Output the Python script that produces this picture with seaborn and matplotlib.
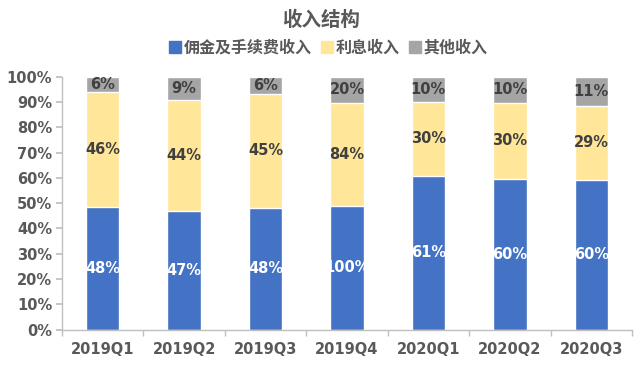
import numpy as np
import pandas as pd
import matplotlib.pyplot as plt
import seaborn as sns
from matplotlib.lines import Line2D
from matplotlib.ticker import FixedLocator, PercentFormatter

sns.set_theme(style="white")
plt.rcParams['font.family'] = ['DejaVu Sans', 'Noto Sans CJK SC']

# Data (segment heights in %, printed labels as shown)
quarters = ['2019Q1', '2019Q2', '2019Q3', '2019Q4', '2020Q1', '2020Q2', '2020Q3']
commission = [48.6, 46.9, 48.1, 49.0, 60.7, 59.6, 59.2]
interest = [45.5, 43.9, 45.1, 40.7, 29.4, 30.1, 29.3]
other = [5.9, 9.2, 6.8, 10.3, 9.9, 10.3, 11.5]
commission_labels = ['48%', '47%', '48%', '100%', '61%', '60%', '60%']
interest_labels = ['46%', '44%', '45%', '84%', '30%', '30%', '29%']
other_labels = ['6%', '9%', '6%', '20%', '10%', '10%', '11%']
series_names = ['佣金及手续费收入', '利息收入', '其他收入']

colors = ['#4472C4', '#FFE699', '#A5A5A5']
text_dark = '#404040'

df = pd.DataFrame({'quarter': quarters, 'commission': commission,
                   'interest': interest, 'other': other})
df['top_interest'] = df['commission'] + df['interest']
df['top_other'] = df['top_interest'] + df['other']

fig = plt.figure(figsize=(6.42, 3.73), dpi=100)
ax = fig.add_axes([62 / 642, 1 - 329.5 / 373, 570 / 642, 252.8 / 373])

# stacked by overlaying cumulative totals
sns.barplot(data=df, x='quarter', y='top_other', color=colors[2], width=0.41,
            saturation=1, ax=ax)
sns.barplot(data=df, x='quarter', y='top_interest', color=colors[1], width=0.41,
            saturation=1, ax=ax)
sns.barplot(data=df, x='quarter', y='commission', color=colors[0], width=0.41,
            saturation=1, ax=ax)

for i in range(len(quarters)):
    c = df.loc[i, 'commission']
    ti = df.loc[i, 'top_interest']
    to = df.loc[i, 'top_other']
    ax.text(i, c / 2, commission_labels[i], ha='center', va='center',
            color='white', fontsize=10.5, fontweight='bold')
    ax.text(i, (c + ti) / 2, interest_labels[i], ha='center', va='center',
            color=text_dark, fontsize=10.5, fontweight='bold')
    ax.text(i, (ti + to) / 2, other_labels[i], ha='center', va='center',
            color=text_dark, fontsize=10.5, fontweight='bold')

ax.set_xlim(-0.5, len(quarters) - 0.5)
ax.set_ylim(0, 100)
ax.set_yticks(np.arange(0, 101, 10))
ax.yaxis.set_major_formatter(PercentFormatter(decimals=0))
ax.set_xlabel('')
ax.set_ylabel('')

ax.xaxis.set_minor_locator(FixedLocator(np.arange(-0.5, len(quarters), 1)))
ax.tick_params(axis='x', which='major', length=0, pad=9, labelsize=10.5,
               labelcolor='#595959')
ax.tick_params(axis='x', which='minor', length=4, color='#BFBFBF', direction='out',
               bottom=True)
ax.tick_params(axis='y', length=4, color='#BFBFBF', direction='out', left=True,
               labelsize=10.5, labelcolor='#595959', pad=3)
for lab in ax.get_xticklabels() + ax.get_yticklabels():
    lab.set_fontweight('bold')

sns.despine(ax=ax)
for side in ['left', 'bottom']:
    ax.spines[side].set_color('#BFBFBF')
    ax.spines[side].set_linewidth(1)
ax.grid(False)

fig.text(0.5, 1 - 20 / 373, '收入结构', ha='center', va='center', fontsize=14,
         fontweight='bold', color='#595959')

handles = [Line2D([0], [0], marker='s', linestyle='', markersize=8,
                  markerfacecolor=col, markeredgecolor=col) for col in colors]
leg = fig.legend(handles, series_names, loc='center', ncol=3,
                 bbox_to_anchor=(0.51, 1 - 48 / 373), frameon=False,
                 handletextpad=0.1, columnspacing=0.5, handlelength=0.9,
                 prop={'size': 11.5, 'weight': 'bold'})
for t in leg.get_texts():
    t.set_color('#595959')

fig.savefig('out.png', dpi=100)
